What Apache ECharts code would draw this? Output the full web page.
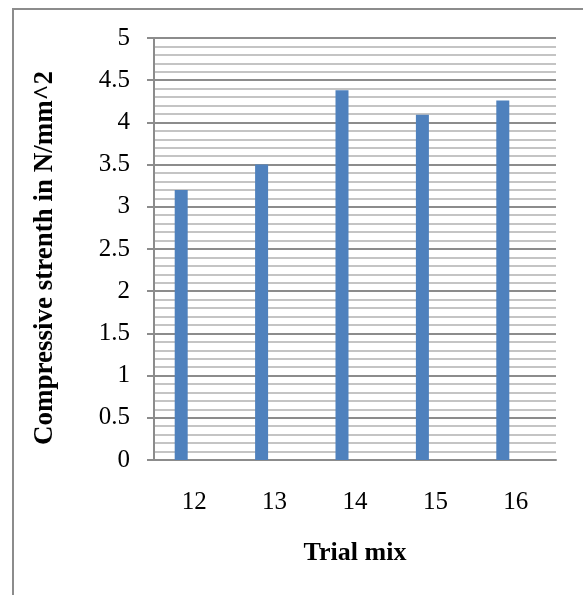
<!DOCTYPE html>
<html>
<head>
<meta charset="utf-8">
<script src="https://cdn.jsdelivr.net/npm/echarts@6/dist/echarts.min.js"></script>
<style>
html,body{margin:0;padding:0;background:#fff;}
#chart{width:583px;height:595px;}
</style>
</head>
<body>
<div id="chart"></div>
<script>
const categories = ['12', '13', '14', '15', '16'];
const strengthValues = [3.2, 3.5, 4.38, 4.09, 4.26];
const emptySeriesValues = [null, null, null, null, null];
const xAxisTitle = 'Trial mix';
const yAxisTitle = 'Compressive strenth in N/mm^2';

const chart = echarts.init(document.getElementById('chart'), null, {renderer: 'canvas'});
const gridColor = '#8c8c8c';
chart.setOption({
  backgroundColor: '#ffffff',
  animation: false,
  graphic: [{
    type: 'rect',
    silent: true,
    shape: {x: 13, y: 9, width: 640, height: 640},
    style: {fill: 'none', stroke: '#8c8c8c', lineWidth: 2}
  }],
  grid: {left: 154, right: 27, top: 38, bottom: 135, containLabel: false},
  xAxis: {
    type: 'category',
    data: categories,
    name: xAxisTitle,
    nameLocation: 'middle',
    nameGap: 80,
    nameTextStyle: {fontFamily: 'Liberation Serif', fontWeight: 'bold', fontSize: 26, color: '#000'},
    axisLine: {show: true, lineStyle: {color: gridColor, width: 2}},
    axisTick: {show: false},
    axisLabel: {margin: 30, fontFamily: 'Liberation Serif', fontSize: 25, color: '#000'},
    splitLine: {show: false}
  },
  yAxis: {
    type: 'value',
    min: 0,
    max: 5,
    interval: 0.5,
    name: yAxisTitle,
    nameLocation: 'middle',
    nameGap: 95,
    nameRotate: 90,
    nameTextStyle: {fontFamily: 'Liberation Serif', fontWeight: 'bold', fontSize: 27, color: '#000', padding: [0, 18, 0, 0]},
    axisLine: {show: true, lineStyle: {color: gridColor, width: 2}},
    axisTick: {show: true, length: 7, lineStyle: {color: gridColor, width: 2}},
    axisLabel: {margin: 24, fontFamily: 'Liberation Serif', fontSize: 25, color: '#000'},
    splitLine: {show: true, lineStyle: {color: gridColor, width: 2}},
    minorTick: {show: false, splitNumber: 5},
    minorSplitLine: {show: true, lineStyle: {color: '#c4c4c4', width: 2}}
  },
  series: [
    {
      type: 'bar',
      data: strengthValues,
      barWidth: 13,
      barGap: '100%',
      itemStyle: {color: '#4f81bd'}
    },
    {
      type: 'bar',
      data: emptySeriesValues,
      barWidth: 13,
      itemStyle: {color: '#c0504d'}
    }
  ]
});
</script>
</body>
</html>
